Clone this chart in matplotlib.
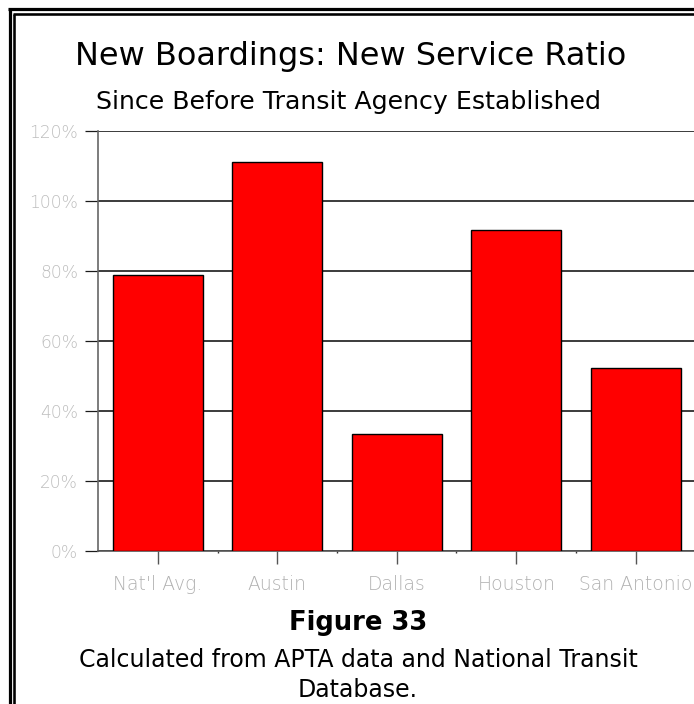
import matplotlib.pyplot as plt
from matplotlib.lines import Line2D

# ratio of new boardings to new service, in percent
cities = ["Nat'l Avg.", "Austin", "Dallas", "Houston", "San Antonio"]
ratio_pct = [79.0, 111.1, 33.3, 91.6, 52.4]
y_ticks = [0, 20, 40, 60, 80, 100, 120]
y_tick_labels = ["0%", "20%", "40%", "60%", "80%", "100%", "120%"]

W, H = 694, 704
fig = plt.figure(figsize=(W / 100, H / 100), dpi=100)
fig.patch.set_facecolor("white")

ax = fig.add_axes([98 / W, 1 - 551 / H, (695.5 - 98) / W, 420 / H])
x = range(len(cities))
ax.bar(x, ratio_pct, width=0.754, color="#ff0000", edgecolor="black",
       linewidth=1.0, zorder=3)

ax.set_xlim(-0.5, 4.5)
ax.set_ylim(0, 120)
ax.set_yticks(y_ticks)
ax.set_yticklabels(y_tick_labels)
ax.set_xticks(list(x))
ax.set_xticklabels(cities)
ax.set_xticks([i + 0.5 for i in range(len(cities) - 1)], minor=True)

ax.grid(axis="y", color="#1a1a1a", linewidth=1.2, zorder=0)
for side in ["top", "right"]:
    ax.spines[side].set_visible(False)
ax.spines["left"].set_color("#666666")
ax.spines["left"].set_linewidth(1.2)
ax.spines["bottom"].set_color("#555555")
ax.spines["bottom"].set_linewidth(1.2)

ax.tick_params(axis="y", length=9.4, width=0.9, color="#1a1a1a", pad=5,
               labelsize=12.3, labelcolor="#bdbdbd")
ax.tick_params(axis="x", which="major", length=9.5, width=1.0, color="#555555",
               pad=8, labelsize=13.5, labelcolor="#b0b0b0")
ax.tick_params(axis="x", which="minor", length=1.5, width=1.0, color="#333333")
for lbl in ax.get_xticklabels() + ax.get_yticklabels():
    lbl.set_fontfamily("DejaVu Sans")
    lbl.set_fontweight("light")

# titles and caption
fig.text(351 / W, 1 - 57 / H, "New Boardings: New Service Ratio",
         ha="center", va="center", fontsize=23, color="black",
         family="DejaVu Sans")
fig.text(348 / W, 1 - 102 / H, "Since Before Transit Agency Established",
         ha="center", va="center", fontsize=18.2, color="black",
         family="DejaVu Sans")
fig.text(358 / W, 1 - 623 / H, "Figure 33", ha="center", va="center",
         fontsize=18.6, fontweight="bold", color="black", family="DejaVu Sans")
fig.text(358 / W, 1 - 660 / H, "Calculated from APTA data and National Transit",
         ha="center", va="center", fontsize=17, color="black",
         family="DejaVu Sans")
fig.text(358 / W, 1 - 690 / H, "Database.", ha="center", va="center",
         fontsize=17, color="black", family="DejaVu Sans")

# double page border along the top and left edges
px = lambda v: v * 72 / 100
def border(x0, y0, lw):
    fig.add_artist(Line2D([x0 / W, x0 / W], [1 - y0 / H, -0.01],
                          transform=fig.transFigure, color="black",
                          linewidth=px(lw), solid_capstyle="butt"))
    fig.add_artist(Line2D([(x0 - lw / 2) / W, 1.01], [1 - y0 / H, 1 - y0 / H],
                          transform=fig.transFigure, color="black",
                          linewidth=px(lw), solid_capstyle="butt"))

border(9.5, 9.0, 3.2)
border(14.2, 14.3, 2.6)

fig.savefig("out.png", dpi=100)
